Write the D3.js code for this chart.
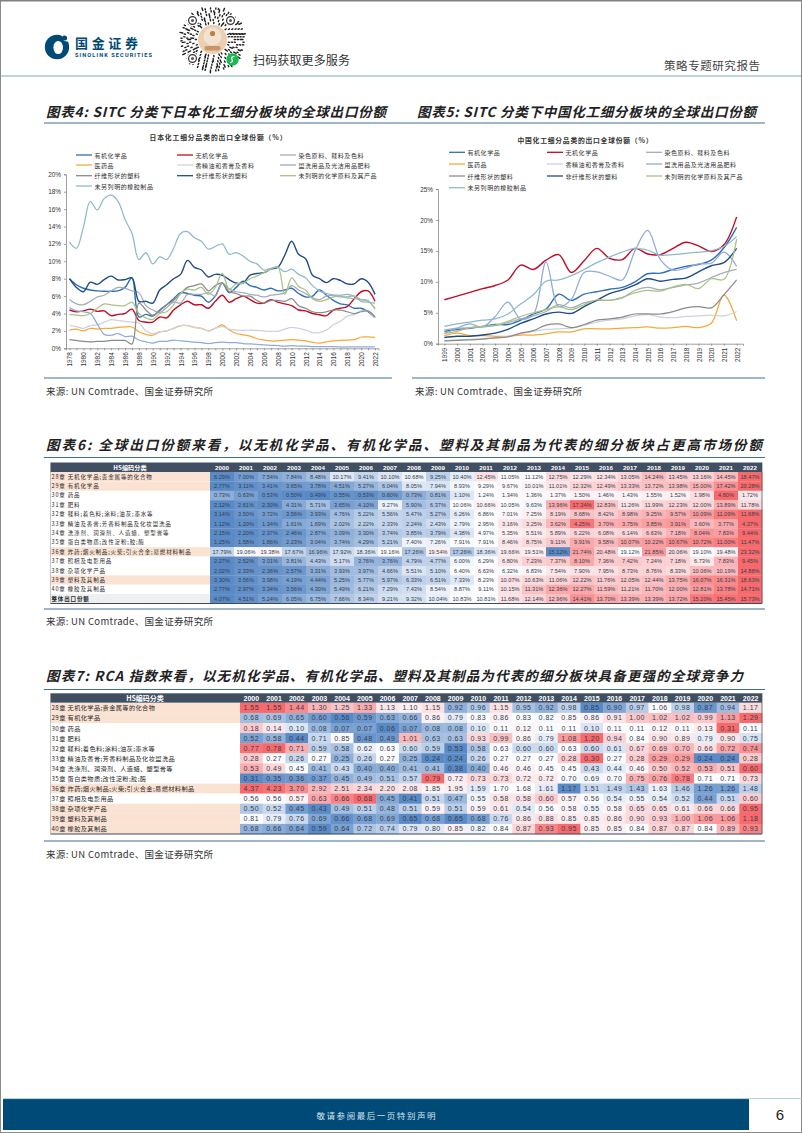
<!DOCTYPE html>
<html><head><meta charset="utf-8">
<style>html,body{margin:0;padding:0;background:#fff}svg{display:block}
text{font-family:"Noto Sans CJK SC","Noto Sans",sans-serif}</style>
<script src="https://cdn.jsdelivr.net/npm/d3@7/dist/d3.min.js"></script></head><body>
<svg id="page" width="802" height="1133"></svg>
<script>
// ---------- chart 4 (Japan), 1978-2022 ----------
const jpYears = d3.range(1978, 2023).map(String);
const jpOrganic = [8.0,7.3,6.9,6.7,6.6,6.55,6.55,6.6,7.0,8.1,3.6,3.9,3.7,4.4,5.0,5.7,6.4,6.3,6.1,6.0,5.3,6.0,7.5,6.4,7.0,7.7,7.2,7.0,6.7,6.9,6.6,6.7,6.9,6.3,5.9,6.0,6.7,6.1,5.5,5.1,5.0,4.6,4.6,4.2,3.5];
const jpInorganic = [4.4,4.2,4.3,4.5,4.25,4.3,3.75,3.9,4.0,4.5,3.2,3.0,3.0,3.6,3.5,4.4,5.0,5.4,5.0,5.0,4.6,5.4,6.1,5.3,5.7,6.0,5.6,5.2,5.2,5.6,5.3,5.1,4.9,4.4,4.3,4.0,3.85,3.75,4.4,4.6,4.8,5.7,6.5,6.6,5.4];
const jpDye = [5.6,5.1,5.0,5.4,5.9,6.1,6.6,7.0,6.9,6.6,6.4,4.9,4.4,4.1,4.7,5.3,5.2,6.2,6.2,6.2,6.4,6.0,7.5,6.8,6.5,6.4,6.2,6.1,5.9,6.1,6.2,6.4,7.2,6.7,6.3,5.8,5.6,6.0,6.1,6.1,6.2,6.0,5.6,5.4,4.6];
const jpPharma = [2.1,2.2,2.0,2.3,2.2,2.3,2.3,2.4,2.45,2.45,1.9,1.6,1.5,1.9,2.0,2.3,2.6,2.6,2.4,2.3,2.0,2.3,2.7,2.1,1.7,1.55,1.4,1.1,0.95,0.85,0.85,0.95,1.0,0.95,0.85,0.7,0.6,0.75,0.85,0.9,0.95,1.0,1.3,1.3,1.25];
const jpOils = [2.6,2.5,2.3,2.6,2.7,3.0,3.3,3.2,3.1,3.0,2.9,2.0,1.7,1.9,2.0,2.3,2.6,2.6,2.4,2.3,2.0,2.3,2.5,2.2,2.1,2.05,2.1,2.05,2.0,1.95,1.95,2.2,2.4,2.3,2.1,1.8,1.8,2.1,2.7,3.1,3.7,3.9,4.3,4.3,3.5];
const jpSoap = [4.7,4.3,4.2,4.0,2.8,1.6,1.5,1.7,1.35,1.4,0.95,0.75,0.6,0.8,0.8,0.95,0.85,0.8,0.7,0.65,0.55,0.65,0.7,0.65,0.65,0.55,0.5,0.45,0.4,0.35,0.3,0.25,0.3,0.25,0.25,0.2,0.2,0.2,0.2,0.15,0.15,0.15,0.15,0.15,0.15];
const jpFibrous = [1.0,0.9,0.8,0.75,0.8,0.8,0.9,0.9,0.9,0.5,5.2,4.4,3.8,4.3,5.0,5.5,6.3,7.0,7.2,7.4,6.6,7.2,7.5,6.5,6.3,6.0,6.0,5.5,5.2,5.5,5.5,5.4,5.7,4.9,4.6,4.2,4.1,4.2,4.4,4.4,4.2,4.0,4.2,4.3,3.6];
const jpNonFibrous = [8.0,7.0,6.5,7.6,7.35,7.9,8.3,7.85,7.9,8.1,5.4,5.4,5.2,6.7,7.3,8.0,8.5,10.1,9.3,9.0,8.2,8.5,8.4,7.9,7.5,7.5,8.4,8.6,8.7,9.1,9.3,10.7,12.3,10.8,10.3,8.4,8.0,7.55,8.0,7.8,7.4,7.4,8.0,7.6,6.2];
const jpChem = [3.9,3.8,3.75,4.0,4.6,5.1,5.0,4.9,4.9,5.3,4.0,3.5,3.3,4.0,4.2,5.0,6.3,6.8,6.7,7.0,6.2,7.0,8.6,6.8,7.4,7.5,8.0,8.3,8.7,9.1,9.4,6.2,8.1,7.1,6.7,5.7,5.4,5.6,5.9,6.0,5.8,5.7,5.6,5.5,4.5];
const jpRubber = [12.2,11.5,13.9,16.9,15.9,17.2,17.6,16.9,14.8,13.2,10.2,11.0,9.7,10.5,10.2,11.5,13.2,13.4,12.7,12.3,11.4,11.7,12.0,10.8,11.0,10.6,10.0,9.7,9.0,9.2,9.3,8.8,9.1,8.5,8.1,7.2,6.6,6.3,6.1,5.9,5.9,6.0,5.4,5.3,5.2];
// ---------- chart 5 (China), 1999-2022 ----------
const cnYears = d3.range(1999, 2023).map(String);
const cnOrganic = [2.0,2.3,2.5,2.8,3.1,3.1,3.8,4.8,5.6,8.0,7.0,8.0,8.4,8.8,9.1,10.0,11.3,11.4,12.0,12.5,12.8,13.5,15.5,18.8];
const cnInorganic = [7.1,7.7,8.3,8.9,9.4,10.3,12.7,12.0,13.5,14.4,11.5,13.4,15.4,13.8,13.6,15.4,14.5,14.4,15.4,16.4,15.8,14.9,16.0,20.5];
const cnDye = [2.2,2.5,2.6,2.7,2.9,3.4,4.0,4.5,5.2,6.3,5.8,6.6,7.0,7.0,7.4,8.6,9.1,8.7,9.1,9.5,9.8,10.7,11.5,12.0];
const cnPharma = [1.3,1.7,1.3,1.3,1.2,1.2,1.4,1.4,1.6,1.9,1.9,2.4,2.4,2.4,2.5,2.6,2.7,2.5,2.6,2.8,2.6,3.3,7.9,3.7];
const cnOils = [0.5,0.6,0.7,0.8,0.95,1.2,1.6,2.0,2.3,2.4,2.5,3.0,3.5,3.8,4.0,4.5,4.7,4.3,4.2,4.4,4.5,4.6,4.5,5.2];
const cnSoap = [1.6,2.5,3.2,2.7,4.4,6.7,4.0,4.7,13.2,6.0,7.2,11.5,11.6,10.9,10.3,15.0,18.3,13.6,11.9,12.2,12.9,13.0,14.8,12.5];
const cnFibrous = [0.45,0.55,0.6,0.75,0.95,1.1,1.7,2.1,3.0,3.2,2.6,3.1,3.8,4.0,4.3,4.8,4.8,4.8,5.2,5.8,6.0,5.8,7.9,10.3];
const cnNonFibrous = [1.0,1.2,1.2,1.4,1.7,2.3,3.3,4.0,4.8,5.1,4.9,6.0,7.0,8.1,8.7,9.5,10.5,10.1,10.4,10.6,11.6,12.6,13.1,15.4];
const cnChem = [1.7,2.0,2.6,2.8,3.0,3.6,4.4,5.0,5.5,6.0,5.5,6.3,7.1,7.0,7.5,8.2,8.6,8.5,9.2,9.6,8.9,10.5,10.4,16.9];
const cnRubber = [2.8,3.2,3.5,3.8,4.0,4.8,6.4,7.9,10.1,10.3,11.0,12.0,13.1,14.0,14.8,15.4,15.1,14.3,14.4,14.6,14.8,15.0,15.7,17.3];
const seriesNames = ["有机化学品","无机化学品","染色原料、鞣料及色料","医药品","香精油和香膏及香料","盥洗用品及光洁用品肥料","纤维形状的塑料","非纤维形状的塑料","未列明的化学原料及其产品","未另列明的橡胶制品"];
const seriesColors = ["#2f6fb7","#c00d25","#a3adb8","#f4aa3a","#ccd2de","#8eabd9","#8b8b8b","#1f4c86","#a9c184","#8fb9c9"];
// ---------- tables ----------
const tableYears = d3.range(2000, 2023).map(String);
const hsLabels = ["28章 无机化学品;贵金属等的化合物","29章 有机化学品","30章 药品","31章 肥料","32章 鞣料;着色料;涂料;油灰;墨水等","33章 精油及香膏;芳香料制品及化妆盥洗品","34章 洗涤剂、润滑剂、人造蜡、塑型膏等","35章 蛋白类物质;改性淀粉;胶;酶","36章 炸药;烟火制品;火柴;引火合金;易燃材料制品","37章 照相及电影用品","38章 杂项化学产品","39章 塑料及其制品","40章 橡胶及其制品"];
const shareTotalLabel = "整体出口份额";
const share28=[6.29,7.00,7.54,7.84,8.48,10.17,9.41,10.10,10.68,9.25,10.40,12.45,11.05,11.12,12.75,12.29,12.34,13.05,14.24,13.45,13.16,14.45,18.47];
const share29=[2.77,3.11,3.41,3.65,3.78,4.51,5.27,6.04,8.05,7.94,8.93,9.29,9.67,10.01,11.01,12.32,12.49,13.33,13.72,13.98,15.00,17.42,20.28];
const share30=[0.73,0.63,0.53,0.50,0.49,0.55,0.53,0.60,0.73,0.81,1.10,1.24,1.34,1.36,1.37,1.50,1.46,1.43,1.55,1.52,1.98,4.80,1.72];
const share31=[2.12,2.61,2.30,4.31,5.71,3.65,4.10,9.27,5.90,6.37,10.06,10.66,10.05,9.63,13.96,17.34,12.83,11.26,11.99,12.23,12.00,13.89,11.78];
const share32=[3.14,3.50,3.72,3.56,3.93,4.76,5.22,5.56,5.47,5.27,6.26,6.86,7.01,7.25,8.19,8.68,8.42,8.98,9.25,9.57,10.09,11.09,11.68];
const share33=[1.12,1.20,1.34,1.61,1.69,2.02,2.22,2.33,2.24,2.43,2.79,2.95,3.16,3.25,3.62,4.25,3.70,3.75,3.85,3.91,3.60,3.77,4.37];
const share34=[2.15,2.20,2.37,2.46,2.87,3.09,3.30,3.74,3.85,3.79,4.38,4.97,5.35,5.51,5.89,6.22,6.08,6.14,6.63,7.18,8.04,7.83,9.44];
const share35=[1.25,1.58,1.86,2.23,3.04,3.74,4.29,5.21,7.40,7.26,7.91,7.91,8.46,8.75,9.11,9.91,9.58,10.07,10.22,10.67,10.72,11.00,11.47];
const share36=[17.79,19.06,19.38,17.67,16.96,17.92,18.36,19.16,17.26,19.54,17.26,18.36,19.66,19.51,15.12,21.74,20.48,19.12,21.85,20.06,19.10,19.48,23.32];
const share37=[2.27,2.52,3.01,3.81,4.43,5.17,3.76,3.76,4.79,4.77,6.00,6.29,6.80,7.23,7.37,8.10,7.36,7.42,7.24,7.18,6.73,7.83,9.45];
const share38=[2.02,2.33,2.36,2.57,3.31,3.93,3.97,4.66,5.51,5.10,6.40,6.63,6.32,6.83,7.54,7.90,7.95,8.73,8.76,8.33,10.06,10.19,14.88];
const share39=[3.30,3.56,3.98,4.19,4.44,5.25,5.77,5.97,6.33,6.51,7.33,8.23,10.07,10.63,11.06,12.22,11.76,12.05,12.44,13.75,16.07,16.31,18.63];
const share40=[2.77,2.97,3.34,3.56,4.30,5.49,6.21,7.29,7.43,8.54,8.87,9.11,10.15,11.31,12.36,12.27,11.59,11.21,11.70,12.00,12.81,13.78,14.71];
const shareTotal=[4.07,4.51,5.24,6.05,6.75,7.66,8.34,9.21,9.32,10.04,10.83,10.81,11.68,12.14,12.96,14.41,13.70,13.39,13.39,13.72,15.20,15.45,15.73];
const rca28=[1.55,1.55,1.44,1.30,1.25,1.33,1.13,1.10,1.15,0.92,0.96,1.15,0.95,0.92,0.98,0.85,0.90,0.97,1.06,0.98,0.87,0.94,1.17];
const rca29=[0.68,0.69,0.65,0.60,0.56,0.59,0.63,0.66,0.86,0.79,0.83,0.86,0.83,0.82,0.85,0.86,0.91,1.00,1.02,1.02,0.99,1.13,1.29];
const rca30=[0.18,0.14,0.10,0.08,0.07,0.07,0.06,0.07,0.08,0.08,0.10,0.11,0.12,0.11,0.11,0.10,0.11,0.11,0.12,0.11,0.13,0.31,0.11];
const rca31=[0.52,0.58,0.44,0.71,0.85,0.48,0.49,1.01,0.63,0.63,0.93,0.99,0.86,0.79,1.08,1.20,0.94,0.84,0.90,0.89,0.79,0.90,0.75];
const rca32=[0.77,0.78,0.71,0.59,0.58,0.62,0.63,0.60,0.59,0.53,0.58,0.63,0.60,0.60,0.63,0.60,0.61,0.67,0.69,0.70,0.66,0.72,0.74];
const rca33=[0.28,0.27,0.26,0.27,0.25,0.26,0.27,0.25,0.24,0.24,0.26,0.27,0.27,0.27,0.28,0.30,0.27,0.28,0.29,0.29,0.24,0.24,0.28];
const rca34=[0.53,0.49,0.45,0.41,0.43,0.40,0.40,0.41,0.41,0.38,0.40,0.46,0.46,0.45,0.45,0.43,0.44,0.46,0.50,0.52,0.53,0.51,0.60];
const rca35=[0.31,0.35,0.36,0.37,0.45,0.49,0.51,0.57,0.79,0.72,0.73,0.73,0.72,0.72,0.70,0.69,0.70,0.75,0.76,0.78,0.71,0.71,0.73];
const rca36=[4.37,4.23,3.70,2.92,2.51,2.34,2.20,2.08,1.85,1.95,1.59,1.70,1.68,1.61,1.17,1.51,1.49,1.43,1.63,1.46,1.26,1.26,1.48];
const rca37=[0.56,0.56,0.57,0.63,0.66,0.68,0.45,0.41,0.51,0.47,0.55,0.58,0.58,0.60,0.57,0.56,0.54,0.55,0.54,0.52,0.44,0.51,0.60];
const rca38=[0.50,0.52,0.45,0.43,0.49,0.51,0.48,0.51,0.59,0.51,0.59,0.61,0.54,0.56,0.58,0.55,0.58,0.65,0.65,0.61,0.66,0.66,0.95];
const rca39=[0.81,0.79,0.76,0.69,0.66,0.68,0.69,0.65,0.68,0.65,0.68,0.76,0.86,0.88,0.85,0.85,0.86,0.90,0.93,1.00,1.06,1.06,1.18];
const rca40=[0.68,0.66,0.64,0.59,0.64,0.72,0.74,0.79,0.80,0.85,0.82,0.84,0.87,0.93,0.95,0.85,0.85,0.84,0.87,0.87,0.84,0.89,0.93];

const svg = d3.select("#page");
const NAVY="#004a77", RULE="#3f6f93", INK="#2a2f36";

function txt(g,x,y,s,o={}){
  const t=g.append("text").attr("x",x).attr("y",y).attr("dominant-baseline","central")
    .attr("font-size",o.size||7).attr("fill",o.fill||INK).attr("text-anchor",o.anchor||"start")
    .attr("font-weight",o.weight||400).text(s);
  if(o.family)t.style("font-family",o.family);
  if(o.spacing)t.attr("letter-spacing",o.spacing);
  if(o.len){t.attr("textLength",o.len).attr("lengthAdjust","spacing");}
  if(o.italic)t.style("font-style","italic");
  return t;
}
function rule(x1,x2,y,c=RULE,w=1){svg.append("line").attr("x1",x1).attr("x2",x2).attr("y1",y).attr("y2",y).attr("stroke",c).attr("stroke-width",w);}

// ---- page frame & header ----
svg.append("rect").attr("x",0.5).attr("y",0.5).attr("width",801).attr("height",1132).attr("fill","none").attr("stroke","#8a8a8a");
rule(0,802,0.8,"#808080",1.6);
rule(1,801,76,"#a9c6d6",1.6);
// logo
const logo=svg.append("g").attr("transform","translate(57,47)");
logo.append("circle").attr("r",12.2).attr("fill",NAVY);
logo.append("ellipse").attr("cx",1.2).attr("cy",0.5).attr("rx",4.8).attr("ry",6.6).attr("fill","#fff");
logo.append("path").attr("d","M4,-13 L13,-13 L13,-5 L7,-6 Z").attr("fill","#fff");
logo.append("circle").attr("cx",7.5).attr("cy",-9).attr("r",2.6).attr("fill",NAVY);
txt(svg,75,42.5,"国金证券",{size:13,weight:700,fill:NAVY,len:63});
txt(svg,75,55,"SINOLINK SECURITIES",{size:5.6,weight:700,fill:NAVY,len:77,family:"Roboto,Arial,sans-serif"});
// round mini-program code (decorative)
const qr=svg.append("g").attr("transform","translate(212.5,39.5)");
d3.range(0,6).forEach(r=>{
  const rad=16+r*2.9, n=Math.round(rad*2.4);
  d3.range(n).forEach(i=>{
    if((i*7+r*11+(i%3)*5)%5<2)return;
    const a=i/n*2*Math.PI, l=((i+r)%4===0)?2.8:1.2;
    qr.append("line").attr("x1",rad*Math.cos(a)).attr("y1",rad*Math.sin(a))
      .attr("x2",(rad+l)*Math.cos(a)).attr("y2",(rad+l)*Math.sin(a))
      .attr("stroke","#1e1e1e").attr("stroke-width",1.4).attr("stroke-linecap","round");
  });
});
[[-20,-19],[18,-19],[-20,19]].forEach(p=>{
  qr.append("circle").attr("cx",p[0]).attr("cy",p[1]).attr("r",5.8).attr("fill","#fff");
  qr.append("circle").attr("cx",p[0]).attr("cy",p[1]).attr("r",3.9).attr("fill","none").attr("stroke","#333").attr("stroke-width",1.2);
  qr.append("circle").attr("cx",p[0]).attr("cy",p[1]).attr("r",1.5).attr("fill","#555");
});
qr.append("circle").attr("r",14.5).attr("fill","#eccfb2");
qr.append("circle").attr("cy",-3).attr("r",9).attr("fill","#f3e2d0");
qr.append("circle").attr("cy",-6).attr("r",2.6).attr("fill","#b9824e");
qr.append("rect").attr("x",-8).attr("y",6.5).attr("width",16).attr("height",4.5).attr("rx",2).attr("fill","#c99763");
qr.append("circle").attr("cx",20).attr("cy",20).attr("r",6.2).attr("fill","#1db954");
qr.append("path").attr("d","M22,17 Q18,17 19.5,20 Q21,23 17.5,23").attr("fill","none").attr("stroke","#fff").attr("stroke-width",1.2);
txt(svg,253,59,"扫码获取更多服务",{size:12,fill:"#333",len:97});
txt(svg,664,65,"策略专题研究报告",{size:11.5,fill:"#444",len:96});

// ---- section titles ----
function title(x,y,s,len){txt(svg,x,y,s,{size:13.5,weight:700,fill:"#222",len,italic:true});}
title(46,111,"图表4: SITC 分类下日本化工细分板块的全球出口份额",340);
title(417,111,"图表5: SITC 分类下中国化工细分板块的全球出口份额",339);
rule(44,765,123,RULE,1.2);
rule(44,392,378,RULE,1);rule(412,765,378,RULE,1);
const srcTxt="来源: UN Comtrade、国金证券研究所";
txt(svg,46,391,srcTxt,{size:9.5,fill:"#333",len:167});
txt(svg,415,391,srcTxt,{size:9.5,fill:"#333",len:167});
title(46,444,"图表6: 全球出口份额来看，以无机化学品、有机化学品、塑料及其制品为代表的细分板块占更高市场份额",716);
rule(44,765,457.5,RULE,1.2);
rule(44,765,609,RULE,1);
txt(svg,46,621,srcTxt,{size:9.5,fill:"#333",len:167});
title(46,675,"图表7: RCA 指数来看，以无机化学品、有机化学品、塑料及其制品为代表的细分板块具备更强的全球竞争力",697);
rule(44,765,689.5,RULE,1.2);
rule(44,765,841,RULE,1);
txt(svg,46,854,srcTxt,{size:9.5,fill:"#333",len:167});

// ---- line charts ----
function lineChart(o){
  const g=svg.append("g");
  const x=d3.scalePoint().domain(o.years).range([o.left,o.right]).padding(0.5);
  const y=d3.scaleLinear().domain([0,o.max]).range([o.bottom,o.top]);
  const line=d3.line().x((d,i)=>x(o.years[i])).y(d=>y(d)).curve(d3.curveCatmullRom.alpha(0.5));
  const yAxis=d3.axisLeft(y).tickValues(d3.range(0,o.max+0.01,o.step)).tickFormat(d=>d+"%").tickSize(2).tickPadding(3);
  const xAxis=d3.axisBottom(x).tickValues(o.years).tickFormat((d,i)=>i%o.every===0?d:"").tickSize(2).tickPadding(3);
  const ax=g.append("g").attr("transform",`translate(${o.left},0)`).call(yAxis);
  const bx=g.append("g").attr("transform",`translate(0,${o.bottom})`).call(xAxis);
  [ax,bx].forEach(a=>{a.selectAll("path,line").attr("stroke","#777").attr("stroke-width",0.7);
    a.selectAll("text").attr("fill","#333").attr("font-size",6.4).style("font-family","'Liberation Sans',Arial,sans-serif");});
  bx.selectAll("text").attr("transform","rotate(-90)").attr("text-anchor","end").attr("dominant-baseline","central")
    .attr("x",-4).attr("y",0).attr("dy",0);
  o.series.forEach((s,i)=>{
    g.append("path").datum(s).attr("d",line).attr("fill","none").attr("stroke",seriesColors[i])
      .attr("stroke-width",[1,7,0].includes(i)?1.4:1.25).attr("stroke-linejoin","round");
  });
  txt(g,o.tx,o.ty,o.title,{size:6.8,weight:700,anchor:"middle",fill:"#333",len:o.tlen});
  seriesNames.forEach((n,i)=>{
    const c=i%3,r=Math.floor(i/3),ly=o.legY[r];
    g.append("line").attr("x1",o.legX[c]).attr("x2",o.legX[c]+16).attr("y1",ly).attr("y2",ly).attr("stroke",seriesColors[i]).attr("stroke-width",1.3);
    txt(g,o.legX[c]+18.5,ly,n,{size:6,fill:"#333",spacing:0.55});
  });
}
lineChart({years:jpYears,left:66,right:378.5,top:174.3,bottom:348.3,max:20,step:2,every:2,
  series:[jpOrganic,jpInorganic,jpDye,jpPharma,jpOils,jpSoap,jpFibrous,jpNonFibrous,jpChem,jpRubber],
  title:"日本化工细分品类的出口全球份额（%）",tx:218,ty:136.5,tlen:137,legX:[76,177,280],legY:[155,165,175.7,186]});
lineChart({years:cnYears,left:438,right:743,top:189,bottom:343.7,max:25,step:5,every:1,
  series:[cnOrganic,cnInorganic,cnDye,cnPharma,cnOils,cnSoap,cnFibrous,cnNonFibrous,cnChem,cnRubber],
  title:"中国化工细分品类的出口全球份额（%）",tx:585,ty:139.7,tlen:135,legX:[449,547,646],legY:[152.3,164,176,187.7]});

// ---- heat tables ----
function heatTable(o){
  const g=svg.append("g");
  const x=d3.scaleBand().domain(tableYears).range([o.labelW,o.right]);
  const nRows=o.rows.length;
  const y=d3.scaleBand().domain(d3.range(nRows)).range([o.headB,o.bottom]);
  g.append("rect").attr("x",o.left).attr("y",o.headT).attr("width",o.right-o.left).attr("height",o.headB-o.headT).attr("fill","#414f63");
  txt(g,o.headX,(o.headT+o.headB)/2,"HS编码分类",{size:o.hSize,fill:"#fff",weight:700,anchor:"middle"});
  tableYears.forEach(t=>txt(g,x(t)+x.bandwidth()/2,(o.headT+o.headB)/2,t,{size:o.hSize,fill:"#fff",weight:700,anchor:"middle",family:"'Liberation Sans',Arial,sans-serif"}));
  o.rows.forEach((vals,r)=>{
    const isTot=o.totalRow===r;
    const bg=isTot?"#efefef":(o.peach.includes(r)?"#fbe3d4":"#fff");
    g.append("rect").attr("x",o.left).attr("y",y(r)).attr("width",o.labelW-o.left).attr("height",y.bandwidth()).attr("fill",bg);
    const lab=o.labels[r];
    txt(g,o.left+1,y(r)+y.bandwidth()/2,lab,{size:o.lSize,fill:"#2a2a2a",spacing:o.lSpace,weight:isTot?700:400});
    const sorted=vals.slice().sort(d3.ascending);
    const col=d3.scaleLinear().domain([sorted[0],d3.quantileSorted(sorted,0.5),sorted[sorted.length-1]])
      .range(["#5a8ac6","#fcfcff","#f8696b"]);
    g.selectAll(null).data(vals).enter().append("rect")
      .attr("x",(d,i)=>x(tableYears[i])).attr("y",y(r)).attr("width",x.bandwidth()+0.4).attr("height",y.bandwidth()+0.2)
      .attr("fill",d=>col(d));
    vals.forEach((v,i)=>txt(g,x(tableYears[i])+x.bandwidth()/2,y(r)+y.bandwidth()/2,o.fmt(v),
      {size:o.vSize,fill:"#34404d",anchor:"middle",spacing:o.vSpace,family:"'Liberation Sans',Arial,sans-serif"}));
  });
  g.append("line").attr("x1",o.left).attr("x2",o.right).attr("y1",o.bottom).attr("y2",o.bottom).attr("stroke","#3f4a5a").attr("stroke-width",1);
  g.append("line").attr("x1",o.right).attr("x2",o.right).attr("y1",o.headT).attr("y2",o.bottom).attr("stroke","#3f4a5a").attr("stroke-width",0.7);
  g.append("line").attr("x1",o.left).attr("x2",o.left).attr("y1",o.headT).attr("y2",o.bottom).attr("stroke","#8793a3").attr("stroke-width",0.5);
}
heatTable({rows:[share28,share29,share30,share31,share32,share33,share34,share35,share36,share37,share38,share39,share40,shareTotal],
  labels:hsLabels.concat([shareTotalLabel]),left:50.5,labelW:210,right:762,headT:462.5,headB:472,bottom:603.5,headX:130,
  peach:[0,1,8,11],totalRow:13,hSize:6.2,lSize:5.5,lSpace:0.85,vSize:5.6,vSpace:0,fmt:v=>v.toFixed(2)+"%"});
heatTable({rows:[rca28,rca29,rca30,rca31,rca32,rca33,rca34,rca35,rca36,rca37,rca38,rca39,rca40],
  labels:hsLabels,left:50.5,labelW:240,right:762,headT:693.3,headB:702.8,bottom:834,headX:145,
  peach:[0,1,8,10,11,12],totalRow:-1,hSize:7,lSize:6.2,lSpace:0.4,vSize:7,vSpace:0.5,fmt:v=>v.toFixed(2)});

// ---- footer ----
svg.append("rect").attr("x",3).attr("y",1099).attr("width",746).attr("height",31).attr("fill",NAVY);
rule(3,802,1098.6,"#a9cfe0",1);
txt(svg,376,1114.5,"敬请参阅最后一页特别声明",{size:8.5,fill:"#d7e3ec",anchor:"middle",len:119});
txt(svg,780,1114.5,"6",{size:15,fill:"#222",anchor:"middle",family:"'Liberation Sans',Arial,sans-serif"});
</script></body></html>
